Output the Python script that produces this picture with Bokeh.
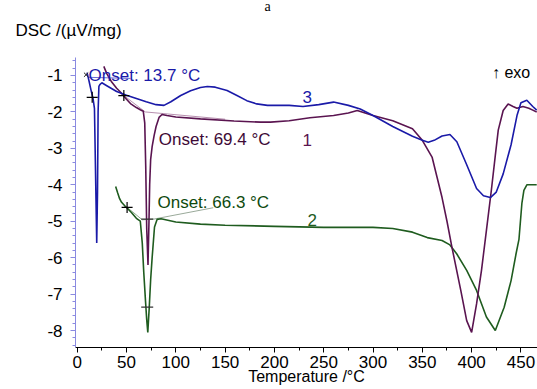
from bokeh.plotting import figure
from bokeh.models import Range1d, SingleIntervalTicker, Title
from bokeh.core.properties import value
from bokeh.embed import file_html
from bokeh.resources import INLINE

# ---- data ----
# curve 3 (blue)
t3 = [10, 12, 14, 16, 17.5, 18.5, 19.8, 20.6, 21.2, 22, 23, 25, 30, 40, 50, 60, 70, 80, 88, 95, 105,
      115, 125, 132, 140, 152, 162, 172, 182, 193, 205, 215, 229, 245, 260, 275, 287, 300, 320, 340,
      350, 356, 362, 370, 378, 385, 395, 405, 412, 419, 425, 432, 440, 446, 450, 456, 462, 466]
y3 = [-0.92, -1.15, -1.4, -1.62, -1.9, -3.5, -5.6, -4.2, -2.0, -1.3, -1.25, -1.2, -1.28, -1.44, -1.54,
      -1.63, -1.72, -1.8, -1.82, -1.72, -1.55, -1.42, -1.33, -1.3, -1.32, -1.41, -1.55, -1.69, -1.78,
      -1.82, -1.82, -1.82, -1.85, -1.8, -1.73, -1.82, -1.92, -2.1, -2.4, -2.67, -2.78, -2.83, -2.78,
      -2.66, -2.62, -2.82, -3.45, -4.1, -4.3, -4.35, -4.2, -3.7, -2.9, -2.1, -1.75, -1.68, -1.85, -1.95]
# curve 1 (maroon)
t1 = [27, 30, 35, 40, 44, 50, 54, 60, 64, 67, 68.5, 69.5, 70.5, 71.8, 72.8, 73.5, 74.5, 76, 78, 80,
      83, 86, 91, 100, 125, 159, 186, 196, 215, 236, 260, 275, 284, 292, 300, 320, 340, 350, 360,
      365, 370, 375, 380, 389, 395, 400, 405, 410, 415, 420, 424, 427, 432, 437, 442, 446, 452, 458,
      462, 466]
y1 = [-0.75, -0.95, -1.18, -1.35, -1.46, -1.65, -1.77, -1.88, -1.94, -1.98, -2.3, -3.5, -5.2, -6.2,
      -5.0, -4.0, -3.3, -2.95, -2.65, -2.4, -2.15, -2.07, -2.1, -2.14, -2.19, -2.25, -2.28, -2.28,
      -2.24, -2.16, -2.1, -2.03, -1.96, -2.03, -2.1, -2.24, -2.46, -2.78, -3.25, -3.8, -4.35, -5.0,
      -5.71, -6.9, -7.73, -8.05, -7.27, -6.35, -5.25, -4.15, -3.2, -2.5, -1.96, -1.78, -1.85, -1.9,
      -1.85, -1.9, -1.95, -2.0]
# curve 2 (green)
t2 = [39, 41, 43, 45, 48, 51, 55, 60, 64, 66, 67.5, 69.3, 70.5, 71.6, 73, 74.5, 76, 78.4, 81, 85,
      100, 125, 150, 200, 250, 300, 320, 340, 355, 370, 378, 385, 395, 405, 415, 424, 433, 440, 445,
      448, 451, 453, 456, 462, 466]
y2 = [-4.05, -4.22, -4.38, -4.48, -4.57, -4.65, -4.76, -4.92, -5.0, -5.6, -6.4, -7.2, -7.7, -8.05,
      -7.4, -6.6, -6.0, -5.16, -4.95, -4.93, -5.02, -5.08, -5.11, -5.14, -5.17, -5.17, -5.2, -5.3,
      -5.45, -5.53, -5.65, -5.9, -6.35, -6.9, -7.63, -8.0, -7.36, -6.63, -5.9, -5.5, -4.5, -4.15,
      -4.0, -4.0, -4.0]

# onset construction marks
cross_t = [15.2, 47.3, 50.6]
cross_y = [-1.6, -1.55, -4.62]
small_cross_t = [9]
small_cross_y = [-0.98]
bar_t = [71, 71]
bar_y = [-4.94, -7.36]
tan3_t = [11.5, 54]
tan3_y = [-1.05, -1.08]
tan1_t = [47.3, 69, 150]
tan1_y = [-1.55, -2.0, -2.2]
tan2_t = [50.6, 66, 78]
tan2_y = [-4.62, -4.96, -4.94]
lead2_t = [78, 138]
lead2_y = [-4.94, -4.63]

y_ticks = [-1, -2, -3, -4, -5, -6, -7, -8]
y_tick_labels = ["-1", "-2", "-3", "-4", "-5", "-6", "-7", "-8"]

BLUE = "#1a1aa8"
MAROON = "#5a1450"
GREEN = "#1f5c1f"
FONT = "Liberation Sans"
FS = "17px"

p = figure(width=537, height=389, output_backend="svg", toolbar_location=None, title=None,
           x_range=Range1d(-1.72, 466.8), y_range=Range1d(-8.466, -0.506),
           min_border_left=75, min_border_right=0, min_border_top=57, min_border_bottom=42)
p.outline_line_color = None
p.xgrid.visible = False
p.ygrid.visible = False
p.background_fill_color = "white"

# y-axis title placed above the plot, left (nearest to the frame)
p.add_layout(Title(text="DSC /(µV/mg)", align="left", offset=-60, vertical_align="top",
                   standoff=31, text_font=FONT, text_font_size=FS, text_font_style="normal",
                   text_color="black"), "above")
# panel letter at the very top (outermost, nearly zero height)
p.add_layout(Title(text="a", align="left", offset=189, vertical_align="bottom",
                   standoff=-17, text_font="Liberation Serif", text_font_size="14px",
                   text_font_style="normal", text_color="black"), "above")

# axes
xa = p.xaxis[0]
xa.ticker = SingleIntervalTicker(interval=50, num_minor_ticks=2)
xa.axis_line_color = "black"
xa.major_tick_line_color = "black"
xa.minor_tick_line_color = "black"
xa.major_tick_out = 5
xa.major_tick_in = 0
xa.minor_tick_out = 3
xa.minor_tick_in = 0
xa.major_label_standoff = 3
xa.major_label_text_font = FONT
xa.major_label_text_font_size = FS
xa.major_label_text_color = "black"
xa.axis_label = "Temperature /°C"
xa.axis_label_text_font = FONT
xa.axis_label_text_font_size = "16px"
xa.axis_label_text_font_style = "normal"
xa.axis_label_text_color = "black"
xa.axis_label_standoff = -3

ya = p.yaxis[0]
ya.ticker = SingleIntervalTicker(interval=1, num_minor_ticks=5)
ya.major_label_overrides = {t: s for t, s in zip(y_ticks, y_tick_labels)}
ya.axis_line_color = "#8a8ae0"
ya.major_tick_line_color = "#8a8ae0"
ya.minor_tick_line_color = "#8a8ae0"
ya.major_tick_out = 5
ya.major_tick_in = 0
ya.minor_tick_out = 3
ya.minor_tick_in = 0
ya.major_label_standoff = 8
ya.major_label_text_font = FONT
ya.major_label_text_font_size = FS
ya.major_label_text_color = "black"

# construction lines
p.line(tan3_t, tan3_y, color="#6a6ad8", line_width=1)
p.line(tan1_t, tan1_y, color="#b890b0", line_width=1)
p.line(tan2_t, tan2_y, color="#8fb08f", line_width=1)
p.line(lead2_t, lead2_y, color="#9aaa9a", line_width=1)

# curves
p.line(t2, y2, color=GREEN, line_width=1.6)
p.line(t1, y1, color=MAROON, line_width=1.6)
p.line(t3, y3, color=BLUE, line_width=1.6)

# marks
p.scatter(cross_t, cross_y, marker="cross", size=11, line_color="black", line_width=1.2)
p.scatter(small_cross_t, small_cross_y, marker="x", size=6, line_color="#222222", line_width=1)
p.scatter(bar_t, bar_y, marker="dash", size=12, line_color="#333333", line_width=1.2)

# texts in the plot
def txt(x, y, s, color, size=FS):
    p.text(x=[x], y=[y], text=[s], text_color=color, text_font=value(FONT),
           text_font_size=size, text_align="left", text_baseline="alphabetic")

txt(11.5, -1.0, "Onset: 13.7 °C", BLUE)
txt(82.8, -2.757, "Onset: 69.4 °C", "#3e0a36")
txt(81.4, -4.478, "Onset: 66.3 °C", "#0e4a0e")
txt(228.5, -1.596, "3", BLUE)
txt(228.5, -2.784, "1", MAROON)
txt(233.6, -4.961, "2", GREEN)
txt(420.6, -0.92, "↑ exo", "black", "16px")

open("out.html", "w").write(file_html(p, INLINE))
